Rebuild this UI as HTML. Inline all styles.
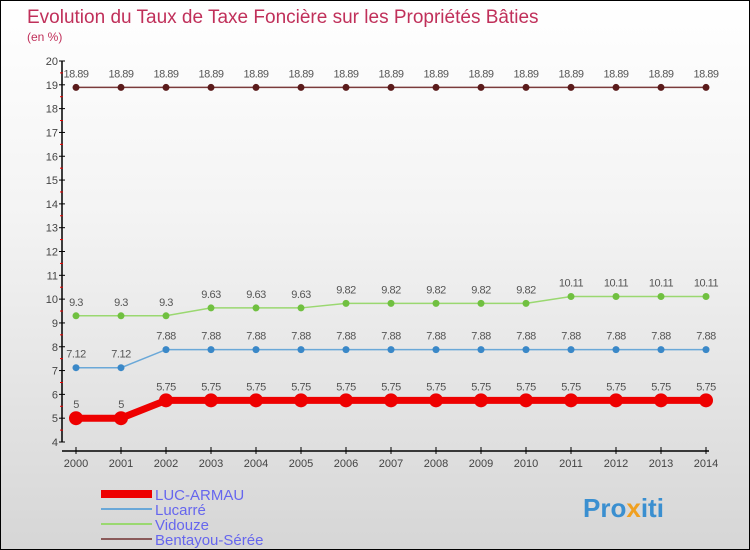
<!DOCTYPE html>
<html><head><meta charset="utf-8"><style>
body{margin:0}
#c{width:750px;height:550px;position:relative;box-sizing:border-box;border:1px solid #000;background:linear-gradient(#ffffff 0%,#f3f3f3 40%,#d6d6d6 100%);font-family:"Liberation Sans",sans-serif;overflow:hidden}
svg text{font-family:"Liberation Sans",sans-serif}
</style></head><body>
<div id="c">
<svg id="s" width="750" height="550">
<text x="26" y="22" font-size="19" fill="#c0305a">Evolution du Taux de Taxe Foncière sur les Propriétés Bâties</text>
<text x="26" y="40" font-size="12" fill="#c0305a">(en %)</text>
<g id="axes"></g><g id="series"></g><g id="legend"></g>
<text x="582" y="516" font-size="26" font-weight="bold" fill="#3a8fd0">Pro<tspan fill="#f0a020">x</tspan>iti</text>
</svg></div>
<script>
const years=[2000,2001,2002,2003,2004,2005,2006,2007,2008,2009,2010,2011,2012,2013,2014];
const yTicks=[4,5,6,7,8,9,10,11,12,13,14,15,16,17,18,19,20];
const seriesNames=["LUC-ARMAU","Lucarré","Vidouze","Bentayou-Sérée"];
const lucArmau=[5,5,5.75,5.75,5.75,5.75,5.75,5.75,5.75,5.75,5.75,5.75,5.75,5.75,5.75];
const lucarre=[7.12,7.12,7.88,7.88,7.88,7.88,7.88,7.88,7.88,7.88,7.88,7.88,7.88,7.88,7.88];
const vidouze=[9.3,9.3,9.3,9.63,9.63,9.63,9.82,9.82,9.82,9.82,9.82,10.11,10.11,10.11,10.11];
const bentayou=[18.89,18.89,18.89,18.89,18.89,18.89,18.89,18.89,18.89,18.89,18.89,18.89,18.89,18.89,18.89];
const NS="http://www.w3.org/2000/svg";
const X=i=>75+i*45, Y=v=>441-(v-4)*(381/16);
function mk(t,a,p){const e=document.createElementNS(NS,t);for(const k in a)e.setAttribute(k,a[k]);p.appendChild(e);return e;}
const ax=document.getElementById('axes');
let l=mk('line',{x1:61,y1:Y(20),x2:61,y2:Y(4),stroke:'#000','stroke-width':1.5},ax);

l=mk('line',{x1:61,y1:450,x2:708,y2:450,stroke:'#000','stroke-width':1.5},ax);

yTicks.forEach(v=>{
 mk('line',{x1:58,y1:Y(v),x2:64,y2:Y(v),stroke:'#000'},ax);
 if(v<20) mk('line',{x1:59,y1:Y(v+0.5),x2:62,y2:Y(v+0.5),stroke:'#e00'},ax);
 const t=mk('text',{x:57,y:Y(v)+4,'text-anchor':'end','font-size':11,fill:'#444'},ax);t.textContent=v;
 
});
years.forEach((y,i)=>{
 mk('line',{x1:X(i),y1:446,x2:X(i),y2:453,stroke:'#000'},ax);
 const t=mk('text',{x:X(i),y:466,'text-anchor':'middle','font-size':11,fill:'#444'},ax);t.textContent=y;
 
});
const sg=document.getElementById('series');
const defs=[[bentayou,'#7a3a3a','#5a1a1a',1.5,3.5],[vidouze,'#9ad870','#70c040',1.5,3.5],[lucarre,'#6aa8d8','#3a88c8',1.5,3.5],[lucArmau,'#ee0000','#ee0000',7,7]];
const names=['bentayou-seree','vidouze','lucarre','luc-armau'];
defs.forEach((d,k)=>{
 const [vals,lc,dc,w,r]=d;
 const p=mk('polyline',{points:vals.map((v,i)=>X(i)+','+Y(v)).join(' '),fill:'none',stroke:lc,'stroke-width':w},sg);
 
 vals.forEach((v,i)=>{
  const c=mk('circle',{cx:X(i),cy:Y(v),r:r,fill:dc},sg);
  
  const t=mk('text',{x:X(i),y:Y(v)-10,'text-anchor':'middle','font-size':11,fill:'#555','letter-spacing':'-0.5'},sg);t.textContent=v;
  
 });
});
const lg=document.getElementById('legend');
const lcol=['#ee0000','#6aa8d8','#9ad870','#8a5a5a'],lw=[8,2,2,2];
seriesNames.forEach((n,i)=>{
 const y=493+i*15;
 mk('line',{x1:100,y1:y,x2:151,y2:y,stroke:lcol[i],'stroke-width':lw[i]},lg);
 const t=mk('text',{x:154,y:y+6,'font-size':15,fill:'#6666ee'},lg);t.textContent=n;
 
});
</script>
</body></html>
